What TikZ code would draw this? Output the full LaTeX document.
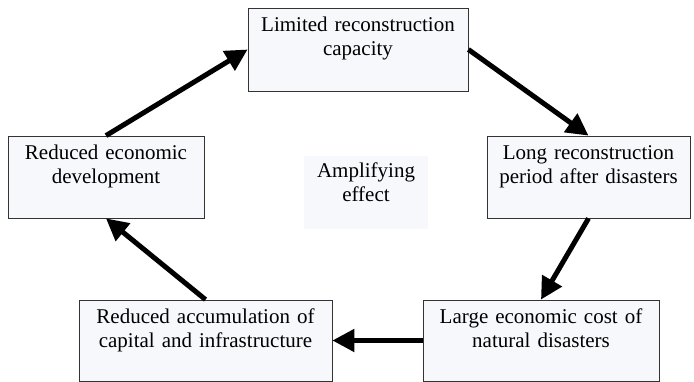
\documentclass[tikz,border=0pt]{standalone}
\usepackage{fontspec}
\setmainfont{Liberation Serif}
\usetikzlibrary{arrows.meta, positioning}
\definecolor{boxfill}{RGB}{247,248,252}

\begin{document}
\begin{tikzpicture}[
    x=1pt, y=-1pt,
    font=\fontsize{21}{24}\selectfont,
    base/.style={draw=black!80, line width=0.8pt, fill=boxfill, align=center, inner xsep=0pt, inner ysep=0pt, text height=23.5pt},
    midlabel/.style={base, draw=none, text height=22pt},
    arrow/.style={-{Triangle[length=22pt, width=22pt]}, line width=5pt, color=black}
]
\useasboundingbox (0,0) rectangle (694,382);

% Top
\node[base, text width=220pt, text depth=59.5pt] (capacity) at (358,49.5) {Limited reconstruction\\capacity};

% Middle row
\node[base, text width=203pt, text depth=58.5pt] (period) at (588.5,177) {Long reconstruction\\period after disasters};
\node[base, text width=196pt, text depth=58.5pt] (development) at (106,177) {Reduced economic\\development};
\node[midlabel, text width=124pt, text depth=51pt] (amplify) at (366,192.5) {Amplifying\\effect};

% Bottom row
\node[base, text width=236pt, text depth=57.5pt] (cost) at (541,340.5) {Large economic cost of\\natural disasters};
\node[base, text width=253pt, text depth=57.5pt] (accumulation) at (205.5,340.5) {Reduced accumulation of\\capital and infrastructure};

% Connections
\draw[arrow] (development.north) -- (capacity.west);
\draw[arrow] (capacity.east) -- (period.north);
\draw[arrow] (period.south) -- (cost.north);
\draw[arrow] (cost.west) -- (accumulation.east);
\draw[arrow] (accumulation.north) -- (development.south);

\end{tikzpicture}
\end{document}
